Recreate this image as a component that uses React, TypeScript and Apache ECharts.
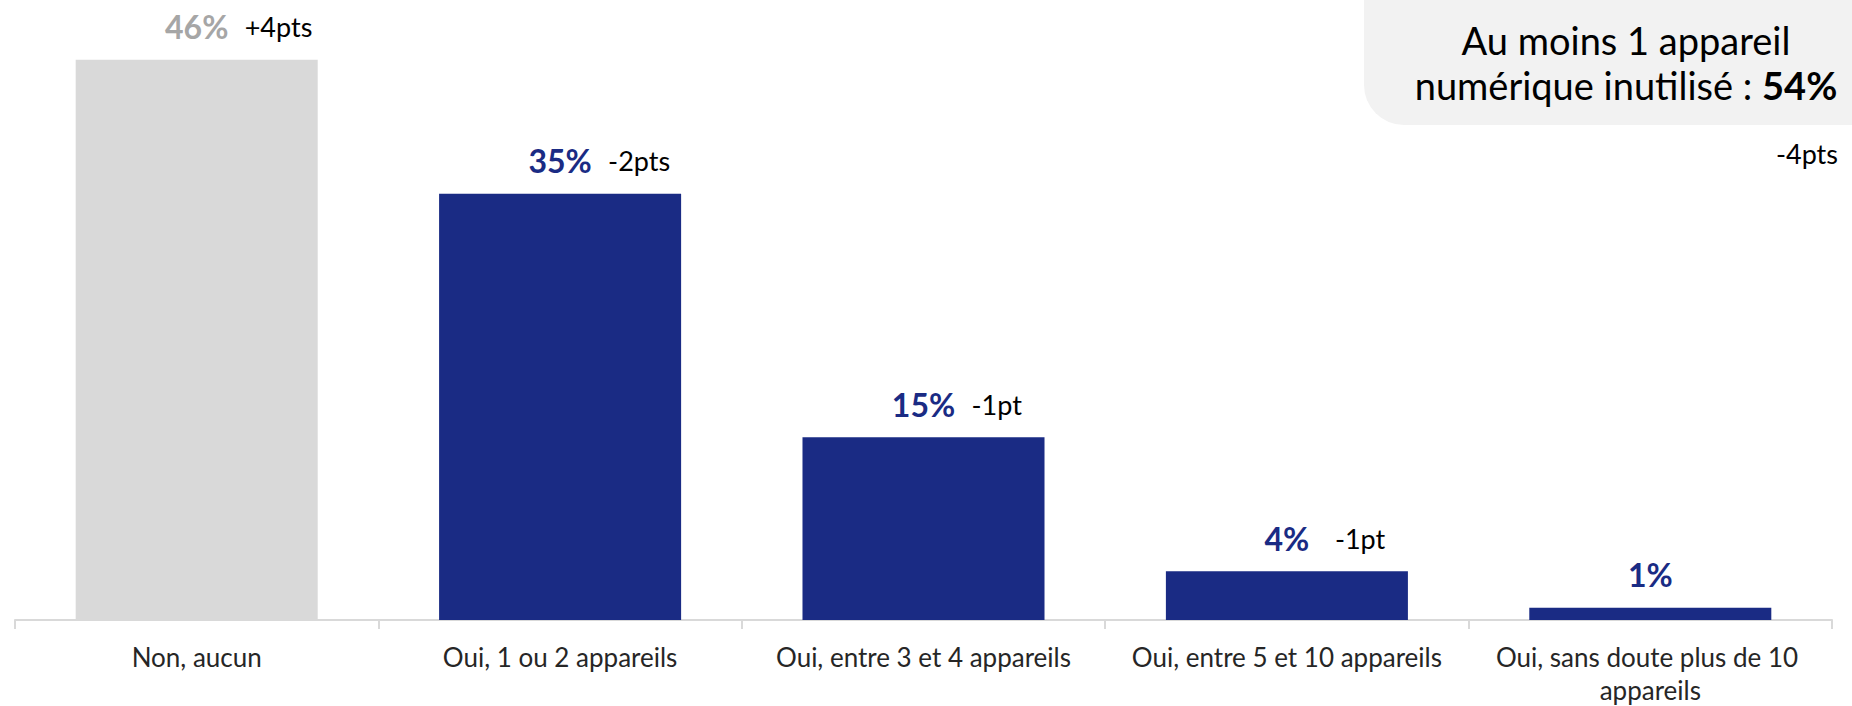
import React, { useEffect, useRef } from "react";
import * as echarts from "echarts";

const categories = [
  "Non, aucun",
  "Oui, 1 ou 2 appareils",
  "Oui, entre 3 et 4 appareils",
  "Oui, entre 5 et 10 appareils",
  "Oui, sans doute plus de 10 appareils",
];
const values = [46, 35, 15, 4, 1];
const deltas = ["+4pts", "-2pts", "-1pt", "-1pt", ""];
const calloutLine1 = "Au moins 1 appareil";
const calloutLine2 = "numérique inutilisé : ";
const calloutValue = "54%";
const calloutDelta = "-4pts";

const NAVY = "#1A2B84";
const GREY_BAR = "#D9D9D9";
const GREY_LABEL = "#A6A6A6";
const barColors = [GREY_BAR, NAVY, NAVY, NAVY, NAVY];
const labelColors = [GREY_LABEL, NAVY, NAVY, NAVY, NAVY];
const FONT = "Lato, 'Open Sans', sans-serif";

export default function App() {
  const ref = useRef<HTMLDivElement>(null);
  useEffect(() => {
    if (!ref.current) return;
    const chart = echarts.init(ref.current, undefined, { renderer: "svg" });
    chart.setOption({
      animation: false,
      grid: { left: 15, right: 20, top: 11, bottom: 84, containLabel: false },
      xAxis: {
        type: "category",
        data: categories,
        axisLine: { show: true, lineStyle: { color: "#D9D9D9", width: 2 } },
        axisTick: { show: true, length: 9, lineStyle: { color: "#D9D9D9", width: 2 } },
        axisLabel: {
          interval: 0,
          color: "#262626",
          fontFamily: FONT,
          fontSize: 26,
          lineHeight: 33,
          margin: 20,
          width: 340,
          overflow: "break",
        },
      },
      yAxis: {
        type: "value",
        min: 0,
        max: 50,
        show: false,
        splitLine: { show: false },
      },
      series: [
        {
          type: "bar",
          barWidth: "66.6%",
          data: values.map((v, i) => ({
            value: v,
            itemStyle: { color: barColors[i] },
            label: { color: labelColors[i] },
          })),
          label: {
            show: true,
            position: "top",
            distance: 17,
            formatter: "{c}%",
            fontFamily: FONT,
            fontWeight: "bold",
            fontSize: 32,
            lineHeight: 32,
          },
        },
        {
          type: "bar",
          barWidth: "66.6%",
          barGap: "-100%",
          silent: true,
          itemStyle: { color: "rgba(0,0,0,0)" },
          data: values,
          label: {
            show: true,
            position: "top",
            distance: 17,
            align: "left",
            offset: [48, 0],
            formatter: (p: any) => deltas[p.dataIndex],
            color: "#000",
            fontFamily: FONT,
            fontSize: 27,
            lineHeight: 32,
          },
        },
      ],
      graphic: [
        {
          type: "rect",
          shape: { x: 1364, y: -60, width: 600, height: 185, r: 40 },
          style: { fill: "#F2F2F2" },
          z: 0,
        },
        {
          type: "text",
          z: 1,
          style: {
            x: 1626,
            y: 62,
            align: "center",
            verticalAlign: "middle",
            text: `{n|${calloutLine1}}\n{n|${calloutLine2}}{b|${calloutValue}}`,
            rich: {
              n: { fontFamily: FONT, fontSize: 38, lineHeight: 45, fill: "#000", color: "#000" },
              b: { fontFamily: FONT, fontSize: 38, lineHeight: 45, fontWeight: "bold", fill: "#000", color: "#000" },
            },
          },
        },
        {
          type: "text",
          z: 1,
          style: {
            x: 1838,
            y: 153,
            align: "right",
            verticalAlign: "middle",
            text: calloutDelta,
            fontFamily: FONT,
            fontSize: 27,
            fill: "#000",
          },
        },
      ],
    });
    return () => chart.dispose();
  }, []);
  return (
    <div
      ref={ref}
      style={{ position: "absolute", left: 0, top: 0, width: 1852, height: 706 }}
    />
  );
}
